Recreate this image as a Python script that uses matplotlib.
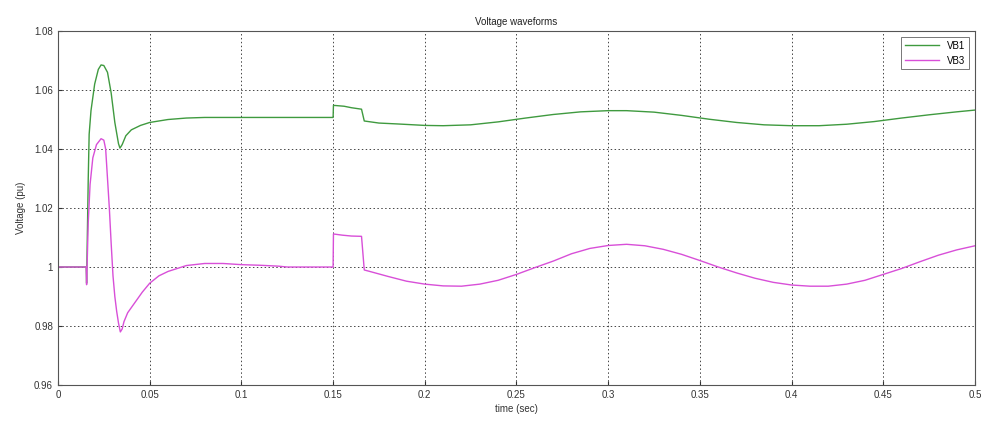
import numpy as np
import matplotlib.pyplot as plt

# bus voltage samples (time in s, voltage in pu)
t_vb1 = [0, 0.0154, 0.0156, 0.0165, 0.017, 0.018, 0.020, 0.022, 0.0235, 0.025,
         0.027, 0.029, 0.031, 0.033, 0.0338, 0.035, 0.037, 0.040, 0.045, 0.05,
         0.06, 0.07, 0.08, 0.15, 0.1502, 0.156, 0.160, 0.1655, 0.167, 0.175,
         0.185, 0.2, 0.21, 0.225, 0.24, 0.255, 0.27, 0.285, 0.3, 0.31,
         0.325, 0.34, 0.355, 0.37, 0.385, 0.40, 0.415, 0.43, 0.445, 0.46,
         0.475, 0.49, 0.5]
vb1 = [1.0, 1.0, 0.9945, 1.03, 1.045, 1.053, 1.062, 1.067, 1.0685, 1.0683,
       1.066, 1.059, 1.049, 1.0418, 1.0403, 1.0415, 1.0445, 1.0465, 1.048, 1.049,
       1.050, 1.0505, 1.0507, 1.0507, 1.0548, 1.0545, 1.054, 1.0535, 1.0495, 1.0488,
       1.0485, 1.048, 1.0479, 1.0482, 1.0492, 1.0505, 1.0517, 1.0526, 1.053, 1.053,
       1.0525, 1.0514, 1.0501, 1.049, 1.0482, 1.0479, 1.0479, 1.0484, 1.0493, 1.0505,
       1.0516, 1.0526, 1.0532]

t_vb3 = [0, 0.0154, 0.0156, 0.0165, 0.0175, 0.019, 0.021, 0.0235, 0.025, 0.026,
         0.027, 0.028, 0.029, 0.030, 0.031, 0.032, 0.033, 0.034, 0.035, 0.036,
         0.038, 0.042, 0.046, 0.05, 0.055, 0.06, 0.07, 0.08, 0.09, 0.1,
         0.11, 0.12, 0.125, 0.15, 0.1502, 0.155, 0.16, 0.1655, 0.167, 0.17,
         0.18, 0.19, 0.2, 0.21, 0.22, 0.23, 0.24, 0.25, 0.26, 0.27,
         0.28, 0.29, 0.30, 0.31, 0.32, 0.33, 0.34, 0.35, 0.36, 0.37,
         0.38, 0.39, 0.40, 0.41, 0.42, 0.43, 0.44, 0.45, 0.46, 0.47,
         0.48, 0.49, 0.5]
vb3 = [1.0, 1.0, 0.994, 1.015, 1.028, 1.037, 1.0415, 1.0435, 1.043, 1.040,
       1.03, 1.02, 1.008, 0.997, 0.990, 0.985, 0.981, 0.978, 0.979, 0.9815,
       0.9845, 0.988, 0.9915, 0.9945, 0.997, 0.9985, 1.0005, 1.0012, 1.0012, 1.0008,
       1.0006, 1.0003, 1.0, 1.0, 1.0112, 1.0108, 1.0105, 1.0104, 0.999, 0.9985,
       0.9968, 0.9952, 0.9942, 0.9936, 0.9935, 0.9942, 0.9955, 0.9975, 0.9998, 1.002,
       1.0045, 1.0063, 1.0073, 1.0077, 1.0072, 1.006, 1.0043, 1.0022, 1.0, 0.998,
       0.9962, 0.9948, 0.9939, 0.9935, 0.9935, 0.9942, 0.9955, 0.9975, 0.9995, 1.0018,
       1.004, 1.0058, 1.0072]

xticks = [0, 0.05, 0.1, 0.15, 0.2, 0.25, 0.3, 0.35, 0.4, 0.45, 0.5]
xticklabels = ['0', '0.05', '0.1', '0.15', '0.2', '0.25', '0.3', '0.35', '0.4', '0.45', '0.5']
yticks = [0.96, 0.98, 1.0, 1.02, 1.04, 1.06, 1.08]
yticklabels = ['0.96', '0.98', '1', '1.02', '1.04', '1.06', '1.08']

plt.rcParams['font.family'] = ['Liberation Sans', 'DejaVu Sans']

fig = plt.figure(figsize=(9.81, 4.26), dpi=100)
ax = fig.add_axes([0.0591, 0.0962, 0.9348, 0.831])

ax.plot(t_vb1, vb1, color='#3f9a3f', lw=1.0, label='VB1')
ax.plot(t_vb3, vb3, color='#d84fd8', lw=1.0, label='VB3')

ax.set_xlim(0, 0.5)
ax.set_ylim(0.96, 1.08)
ax.set_xticks(xticks)
ax.set_xticklabels(xticklabels)
ax.set_yticks(yticks)
ax.set_yticklabels(yticklabels)
ax.tick_params(direction='in', labelsize=7, colors='#333333', length=3)
ax.grid(True, color='#444444', linestyle=(0, (1.5, 2.5)), linewidth=0.7)
for s in ax.spines.values():
    s.set_color('#555555')

ax.set_title('Voltage waveforms', fontsize=7, color='#222222', pad=4)
ax.set_xlabel('time (sec)', fontsize=7, color='#333333', labelpad=3)
ax.set_ylabel('Voltage (pu)', fontsize=7, color='#333333', labelpad=6)

leg = ax.legend(loc='upper right', fontsize=7, frameon=True, fancybox=False,
                handlelength=3.5, borderaxespad=0.6)
leg.get_frame().set_edgecolor('#555555')
leg.get_frame().set_linewidth(0.7)

fig.savefig('out.png', dpi=100)
